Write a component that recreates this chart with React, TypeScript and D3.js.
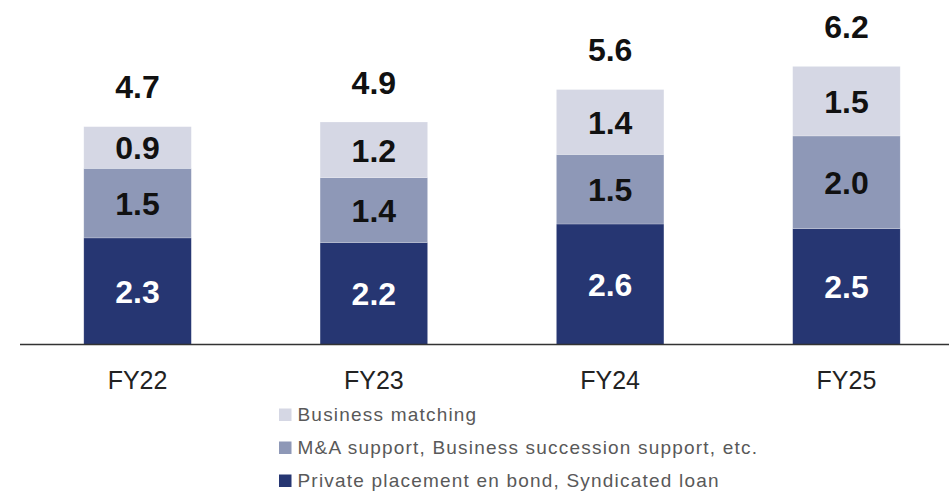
import React from "react";
import * as d3 from "d3";

const categories = ["FY22", "FY23", "FY24", "FY25"];
const privatePlacement = [2.3, 2.2, 2.6, 2.5];
const maSupport = [1.5, 1.4, 1.5, 2.0];
const businessMatching = [0.9, 1.2, 1.4, 1.5];
const totals = [4.7, 4.9, 5.6, 6.2];

const seriesNames = [
  "Private placement en bond, Syndicated loan",
  "M&A support, Business succession support, etc.",
  "Business matching",
];
const seriesColors = ["#263672", "#8e98b7", "#d5d7e4"];
const labelColors = ["#ffffff", "#111111", "#111111"];

const W = 949;
const H = 492;
const baseY = 344.5;

export default function App() {
  const x = d3
    .scaleBand<string>()
    .domain(categories)
    .range([19.4, 964.6])
    .paddingInner(0.545)
    .paddingOuter(0.2725);
  const y = d3.scaleLinear().domain([0, 1]).range([baseY, baseY - 46.35]);

  const rows = categories.map((c, i) => ({
    cat: c,
    s0: privatePlacement[i],
    s1: maSupport[i],
    s2: businessMatching[i],
  }));
  const stack = d3.stack<any>().keys(["s0", "s1", "s2"])(rows);

  const numFont = "'Liberation Sans', Arial, sans-serif";
  const legendOrder = [2, 1, 0];

  return (
    <svg
      width={W}
      height={H}
      style={{ position: "absolute", left: 0, top: 0, background: "#fff" }}
    >
      {stack.map((layer, si) => (
        <g key={si}>
          {layer.map((d, i) => {
            const x0 = x(categories[i])!;
            const yTop = y(d[1]);
            const yBot = y(d[0]);
            const v = d[1] - d[0];
            return (
              <g key={i}>
                <rect
                  x={x0}
                  y={yTop}
                  width={x.bandwidth()}
                  height={yBot - yTop}
                  fill={seriesColors[si]}
                  stroke="#ffffff"
                  strokeOpacity={0.35}
                  strokeWidth={0.6}
                />
                <text
                  x={x0 + x.bandwidth() / 2}
                  y={(yTop + yBot) / 2 + 11.8}
                  textAnchor="middle"
                  fontFamily={numFont}
                  fontWeight="bold"
                  fontSize={32}
                  fill={labelColors[si]}
                >
                  {v.toFixed(1)}
                </text>
              </g>
            );
          })}
        </g>
      ))}
      {categories.map((c, i) => {
        const top = stack[2][i][1];
        return (
          <text
            key={c}
            x={x(c)! + x.bandwidth() / 2}
            y={y(top) - 28.5}
            textAnchor="middle"
            fontFamily={numFont}
            fontWeight="bold"
            fontSize={32}
            fill="#111"
          >
            {totals[i].toFixed(1)}
          </text>
        );
      })}
      <line x1={20} x2={949} y1={baseY} y2={baseY} stroke="#333" strokeWidth={1.5} />
      {categories.map((c) => (
        <text
          key={c}
          x={x(c)! + x.bandwidth() / 2}
          y={389}
          textAnchor="middle"
          fontFamily={numFont}
          fontSize={25}
          fill="#222"
        >
          {c}
        </text>
      ))}
      {legendOrder.map((si, r) => {
        const by = 421 + r * 33;
        return (
          <g key={si}>
            <rect x={279} y={by - 12.5} width={12.5} height={12.5} fill={seriesColors[si]} />
            <text
              x={297.5}
              y={by}
              fontFamily={numFont}
              fontSize={19}
              letterSpacing={1.2}
              fill="#595959"
            >
              {seriesNames[si]}
            </text>
          </g>
        );
      })}
    </svg>
  );
}
